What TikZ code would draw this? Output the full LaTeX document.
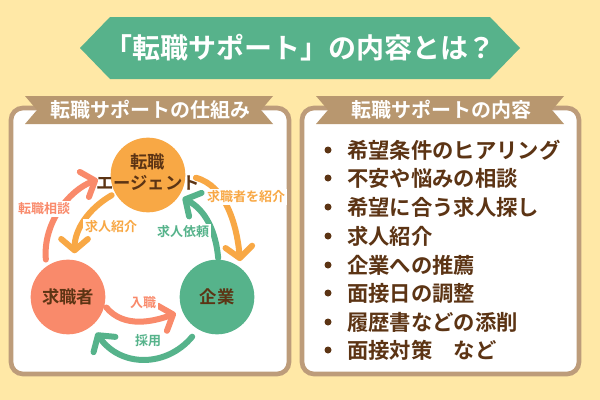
\documentclass[tikz,border=0pt]{standalone}
\usepackage{fontspec}
\setmainfont{Noto Sans CJK JP}[BoldFont={Noto Sans CJK JP Bold}]
\usetikzlibrary{arrows.meta}

\definecolor{paper}{HTML}{FFE8A6}
\definecolor{bannergreen}{HTML}{57B28B}
\definecolor{panelbrown}{HTML}{BD9C7A}
\definecolor{ribbonbrown}{HTML}{B8976F}
\definecolor{darkbrown}{HTML}{5C3414}
\definecolor{agentorange}{HTML}{F8A845}
\definecolor{seekercoral}{HTML}{F98A6B}
\definecolor{firmgreen}{HTML}{56B38B}

\tikzset{
  panel/.style={draw=panelbrown, line width=3.5pt, fill=white, rounded corners=9pt},
  ribbontext/.style={text=white, font=\bfseries\fontsize{15}{17}\selectfont},
  actor/.style={circle, minimum size=56pt, inner sep=0pt},
  actorname/.style={text=darkbrown, align=center, font=\bfseries\fontsize{13}{15.75}\selectfont},
  flow/.style={line width=4.5pt, line cap=round, -{Straight Barb[length=8.5pt,width=20pt,round]}},
  flowlabel/.style={fill=white, inner sep=1.5pt, font=\bfseries\fontsize{9.75}{11}\selectfont},
  item/.style={anchor=west, inner sep=0pt, text=darkbrown, font=\bfseries\fontsize{16}{17}\selectfont},
}

\begin{document}
\begin{tikzpicture}[x=0.75pt, y=-0.75pt]
%%%%% START %%%%%

\fill[paper] (0,0) rectangle (600,400);
\useasboundingbox (0,0) rectangle (600,400);

% title banner
\fill[bannergreen] (80,48) -- (110,17) -- (490,17) -- (520,48) -- (490,79) -- (110,79) -- cycle;
\node[text=white, font=\bfseries\fontsize{21}{24}\selectfont] (title) at (300,48) {「転職サポート」の内容とは？};

% panels
\draw[panel] (11,108) rectangle (289,374);
\draw[panel] (302,108) rectangle (579,374);

\fill[ribbonbrown] (25,96) -- (273,96) -- (261,110) -- (273,124) -- (25,124) -- (37,110) -- cycle;
\node[ribbontext] (lefthead) at (150,110) {転職サポートの仕組み};
\fill[ribbonbrown] (316,96) -- (564,96) -- (552,110) -- (564,124) -- (316,124) -- (328,110) -- cycle;
\node[ribbontext] (righthead) at (441,110) {転職サポートの内容};

% the three parties
\node[actor, fill=agentorange] (agent) at (148,175) {};
\node[actorname] (agentname) at (148,172) {転職\\エージェント};
\node[actor, fill=seekercoral, actorname] (seeker) at (68,297) {求職者};
\node[actor, fill=firmgreen, actorname] (company) at (217,297) {企業};

% flows
\draw[flow, seekercoral, shorten <=5pt, shorten >=10pt] (seeker.125) to[out=95, in=200] (agent.west);
\draw[flow, agentorange, shorten <=3pt, shorten >=5pt] (agent.209) to[out=210, in=90] (seeker.80);
\draw[flow, agentorange, shorten <=8pt, shorten >=5pt] (agent.0) to[out=345, in=95] (company.51);
\draw[flow, firmgreen, shorten <=1pt, shorten >=3pt] (company.88) to[out=95, in=332] (agent.326);
\draw[flow, seekercoral, shorten <=2pt, shorten >=5pt] (seeker.347) to[out=310, in=200] (company.202);
\draw[flow, firmgreen, shorten <=7pt, shorten >=6pt] (company.240) to[out=230, in=305, looseness=1.2] (seeker.309);

\node[flowlabel, text=seekercoral] (consult) at (44,209) {転職相談};
\node[flowlabel, text=agentorange] (jobintro) at (111,227) {求人紹介};
\node[flowlabel, text=agentorange] (candintro) at (246,197) {求職者を紹介};
\node[flowlabel, text=firmgreen] (jobrequest) at (183,232) {求人依頼};
\node[flowlabel, text=seekercoral] (joining) at (143,303) {入職};
\node[flowlabel, text=firmgreen] (hiring) at (148,341) {採用};

% support list
\node[item] (hearing) at (347,150) {希望条件のヒアリング};
\node[item] (worries) at (347,178) {不安や悩みの相談};
\node[item] (search) at (347,207) {希望に合う求人探し};
\node[item] (intro) at (347,236) {求人紹介};
\node[item] (recommend) at (347,265) {企業への推薦};
\node[item] (schedule) at (347,293) {面接日の調整};
\node[item] (resume) at (347,322) {履歴書などの添削};
\node[item] (interview) at (347,350) {面接対策　など};
\foreach \y in {150,178,207,236,265,293,322,350}
  \fill[darkbrown] (328,\y) circle (3.5);

%%%%% END %%%%%
\end{tikzpicture}
\end{document}
